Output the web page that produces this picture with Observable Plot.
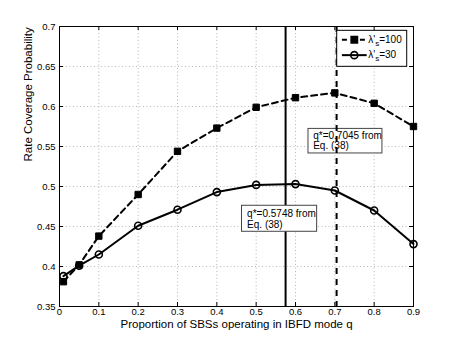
<!DOCTYPE html>
<html><head><meta charset="utf-8">
<script src="https://cdn.jsdelivr.net/npm/d3@7"></script>
<script src="https://cdn.jsdelivr.net/npm/@observablehq/plot@0.6"></script>
<style>
body{margin:0;background:#fff}
#chart svg{font-family:"Liberation Sans",Arial,Helvetica,sans-serif;background:#fff}
</style>
</head><body><div id="chart"></div>
<script>
// ---- data ----
const q = [0.01, 0.05, 0.1, 0.2, 0.3, 0.4, 0.5, 0.6, 0.7, 0.8, 0.9];
const cov100 = [0.381, 0.402, 0.438, 0.490, 0.544, 0.573, 0.599, 0.611, 0.617, 0.604, 0.575];
const cov30  = [0.388, 0.401, 0.415, 0.451, 0.471, 0.493, 0.502, 0.503, 0.495, 0.470, 0.428];
const qStar = [0.5748, 0.7045];
const xTicks = [0, 0.1, 0.2, 0.3, 0.4, 0.5, 0.6, 0.7, 0.8, 0.9];
const yTicks = [0.35, 0.4, 0.45, 0.5, 0.55, 0.6, 0.65, 0.7];
const seriesLabels = ["λ's=100", "λ's=30"];
const annoLines = [["q*=0.5748 from", "Eq. (38)"], ["q*=0.7045 from", "Eq. (38)"]];
const xLabel = "Proportion of SBSs operating in IBFD mode q";
const yLabel = "Rate Coverage Probability";

// tables built from the arrays
const s100 = q.map((x, i) => ({q: x, v: cov100[i]}));
const s30 = q.map((x, i) => ({q: x, v: cov30[i]}));
const fmt = d => String(+d.toFixed(2));

// annotation boxes (placement in data units)
const annos = [
  {x1: 0.464, x2: 0.655, y1: 0.4434, y2: 0.4759, tx: 0.477, ty: [0.4655, 0.4525], lines: annoLines[0]},
  {x1: 0.633, x2: 0.821, y1: 0.5413, y2: 0.5720, tx: 0.645, ty: [0.5635, 0.5505], lines: annoLines[1]}
];
const annoText = annos.flatMap(a => a.lines.map((t, i) => ({x: a.tx, y: a.ty[i], t})));

// legend placement (data units)
const leg = {x1: 0.706, x2: 0.884, y1: 0.6496, y2: 0.6946, lx1: 0.718, lx2: 0.781, mx: 0.7495, tx: 0.785, rows: [0.6834, 0.6642]};

const H = 280; // inner plot height
const W = 457 - 59 - 44;

const chart = Plot.plot({
  width: 457, height: 343,
  marginLeft: 59, marginRight: 44, marginTop: 26, marginBottom: 37,
  style: {fontFamily: '"Liberation Sans", Arial, sans-serif', background: "#fff"},
  x: {domain: [0, 0.9]},
  y: {domain: [0.35, 0.7]},
  marks: [
    Plot.gridX(xTicks, {stroke: "#b8b8b8", strokeOpacity: 1, strokeDasharray: "1,2.5"}),
    Plot.gridY(yTicks, {stroke: "#b8b8b8", strokeOpacity: 1, strokeDasharray: "1,2.5"}),
    // inward ticks on all sides
    Plot.tickX(xTicks, {x: d => d, insetTop: H - 4, stroke: "black"}),
    Plot.tickX(xTicks, {x: d => d, insetBottom: H - 4, stroke: "black"}),
    Plot.tickY(yTicks, {y: d => d, insetRight: W - 4, stroke: "black"}),
    Plot.tickY(yTicks, {y: d => d, insetLeft: W - 4, stroke: "black"}),
    Plot.axisX(xTicks, {tickSize: 0, tickPadding: 2, tickFormat: fmt, label: null, fontSize: 9.5, fill: "black"}),
    Plot.axisY(yTicks, {tickSize: 0, tickPadding: 4, tickFormat: fmt, label: null, fontSize: 9.5, fill: "black"}),
    Plot.frame({stroke: "black", strokeWidth: 1}),
    // vertical optimum lines
    Plot.ruleX([qStar[0]], {stroke: "black", strokeWidth: 2}),
    // series
    Plot.line(s100, {x: "q", y: "v", stroke: "black", strokeWidth: 2, strokeDasharray: "6,4"}),
    Plot.line(s30, {x: "q", y: "v", stroke: "black", strokeWidth: 2}),
    Plot.dot(s100, {x: "q", y: "v", symbol: "square", r: 3.6, fill: "black", stroke: "black", strokeWidth: 1}),
    Plot.dot(s30, {x: "q", y: "v", symbol: "circle", r: 3.5, fill: "none", stroke: "black", strokeWidth: 1.6}),
    // annotation boxes
    Plot.rect(annos, {x1: "x1", x2: "x2", y1: "y1", y2: "y2", fill: "white", stroke: "#444", strokeWidth: 1}),
    Plot.text(annoText, {x: "x", y: "y", text: "t", textAnchor: "start", fontSize: 10, fill: "black"}),
    Plot.ruleX([qStar[1]], {stroke: "black", strokeWidth: 2, strokeDasharray: "6,5"}),
    // legend
    Plot.rect([leg], {x1: "x1", x2: "x2", y1: "y1", y2: "y2", fill: "white", stroke: "black", strokeWidth: 1}),
    Plot.link([leg], {x1: "lx1", x2: "lx2", y1: () => leg.rows[0], y2: () => leg.rows[0], stroke: "black", strokeWidth: 2, strokeDasharray: "5,4"}),
    Plot.link([leg], {x1: "lx1", x2: "lx2", y1: () => leg.rows[1], y2: () => leg.rows[1], stroke: "black", strokeWidth: 2}),
    Plot.dot([leg], {x: "mx", y: () => leg.rows[0], symbol: "square", r: 3.6, fill: "black", stroke: "black"}),
    Plot.dot([leg], {x: "mx", y: () => leg.rows[1], symbol: "circle", r: 3.5, fill: "none", stroke: "black", strokeWidth: 1.6}),
    Plot.text(seriesLabels, {x: () => leg.tx, y: (d, i) => leg.rows[i], text: d => d, textAnchor: "start", fontSize: 10, fill: "black", className: "legtext"}),
    // axis labels
    Plot.text([xLabel], {frameAnchor: "bottom", dy: 21, text: d => d, fontSize: 11.5, fill: "black"}),
    Plot.text([yLabel], {frameAnchor: "left", dx: -31, dy: -5, rotate: -90, text: d => d, fontSize: 11.5, fill: "black"})
  ]
});

// render subscript "s" after the prime in legend labels
d3.select(chart).selectAll("g.legtext text").each(function() {
  const t = this.textContent;
  const m = t.match(/^λ'(s)(=.*)$/);
  if (!m) return;
  const sel = d3.select(this);
  sel.text(null);
  sel.append("tspan").text("λ'");
  sel.append("tspan").attr("font-size", 8).attr("dy", 3).text("s");
  sel.append("tspan").attr("dy", -3).text(m[2]);
});

document.getElementById("chart").append(chart);
</script>
</body></html>
